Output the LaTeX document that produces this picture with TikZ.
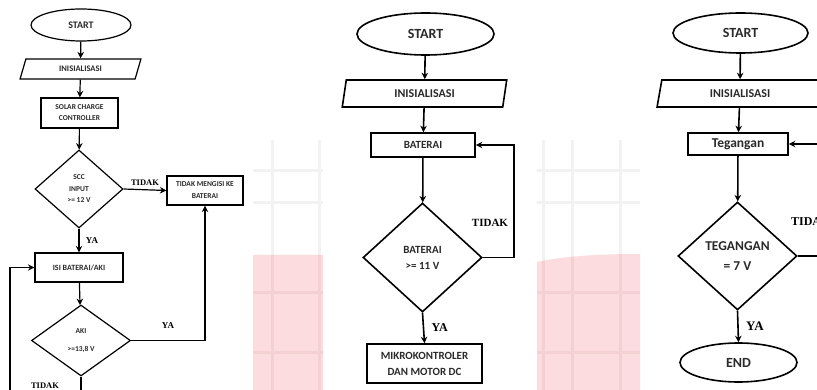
\documentclass[tikz,border=0pt]{standalone}
\usepackage{fontspec}
\setmainfont{Liberation Serif}
\newfontfamily\calib{Carlito}
\usetikzlibrary{arrows.meta, shapes.geometric, positioning}
\definecolor{WMpink}{HTML}{FCDCDE}
\definecolor{WMgrid}{HTML}{F2F2F2}
\definecolor{WMpinkgrid}{HTML}{F5D0D3}
\definecolor{FCtext}{HTML}{2A2A2A}
\newcommand{\fsz}[1]{\fontsize{#1}{#1}\selectfont}

\begin{document}
\begin{tikzpicture}[x=1pt, y=-1pt]
\tikzset{
  termnode/.style={ellipse, draw, inner sep=0pt, text=FCtext},
  ionode/.style={trapezium, trapezium stretches=true, draw, inner sep=0pt, text=FCtext},
  procnode/.style={rectangle, draw, inner sep=0pt, align=center, text=FCtext},
  decnode/.style={diamond, draw, inner sep=0pt, align=center, text=FCtext},
  flowarrow/.style={-{Stealth[length=6.5pt, width=6.5pt]}},
  gridline/.style={line width=3pt, WMgrid},
}
  \useasboundingbox (0,0) rectangle (817,390);
  \clip (0,0) rectangle (817,390);
  \fill[white] (0,0) rectangle (817,390);

  % Watermark behind the gaps
  \foreach \gx in {272,319,543,572,620}
    \draw[gridline] (\gx,140) -- (\gx,390);
  \foreach \gy in {171,203} {
    \draw[gridline] (253,\gy) -- (323,\gy);
    \draw[gridline] (537,\gy) -- (640,\gy);
  }
  \begin{scope}
    \clip (253,255) rectangle (323,390)
      (537,262) .. controls (570,255) and (610,254) .. (640,254)
      -- (640,390) -- (537,390) -- cycle;
    \fill[WMpink] (0,0) rectangle (817,390);
    \foreach \gx in {272,319,543,572,620}
      \draw[gridline, WMpinkgrid] (\gx,140) -- (\gx,390);
    \foreach \gy in {293,352} {
      \draw[gridline, WMpinkgrid] (253,\gy) -- (323,\gy);
      \draw[gridline, WMpinkgrid] (537,\gy) -- (640,\gy);
    }
  \end{scope}

  % Left chart: charging
  \begin{scope}[line width=1.2pt, font=\calib\bfseries]
    \node[termnode, minimum width=100, minimum height=32, font=\calib\bfseries\fsz{10}]
      (start1) at (81,25) {START};
    \node[ionode, trapezium left angle=68, trapezium right angle=112,
      minimum width=121, minimum height=20, font=\calib\bfseries\fsz{8.5}]
      (init1) at (80.5,69) {INISIALISASI};
    \node[procnode, minimum width=77, minimum height=30, font=\calib\bfseries\fontsize{7.5}{11}\selectfont]
      (scc) at (79.5,113) {SOLAR CHARGE\\CONTROLLER};
    \node[decnode, minimum width=88, minimum height=78, font=\calib\bfseries\fontsize{7.5}{11.5}\selectfont]
      (sccin) at (79,189) {SCC\\INPUT\\>= 12 V};
    \node[procnode, minimum width=76, minimum height=29, font=\calib\bfseries\fontsize{7.5}{12}\selectfont]
      (nocharge) at (205,190.5) {TIDAK MENGISI KE\\BATERAI};
    \node[procnode, minimum width=88, minimum height=29, font=\calib\bfseries\fsz{8}]
      (charge) at (79,267.5) {ISI BATERAI/AKI};
    \node[decnode, minimum width=99, minimum height=71, font=\calib\bfseries\fontsize{7.5}{18}\selectfont]
      (aki) at (81,340.5) {AKI\\>=13,8 V};
    \coordinate (loop1) at (10,400);

    \draw[flowarrow] (start1) -- (init1);
    \draw[flowarrow] (init1) -- (scc);
    \draw[flowarrow] (scc) -- (sccin);
    \draw[flowarrow] (sccin.east) -- (nocharge.west)
      node[midway, above, font=\bfseries\fsz{8.5}] {TIDAK};
    \draw[flowarrow] (sccin.south) -- (charge.north)
      node[midway, right=3pt, font=\bfseries\fsz{9}] {YA};
    \draw[flowarrow] (charge) -- (aki);
    \draw[flowarrow] (aki.east) -| (nocharge.south)
      node[pos=0.25, above=8pt, font=\bfseries\fsz{9}] {YA};
    \draw[flowarrow] (aki.south) -- (aki.south |- loop1) -- (loop1) |- (charge.west);
    \node[font=\bfseries\fsz{8.5}] (tidak1) at (45,386) {TIDAK};
  \end{scope}

  % Middle chart: battery check
  \begin{scope}[line width=1.6pt, font=\calib\bfseries]
    \node[termnode, minimum width=137, minimum height=42, font=\calib\bfseries\fsz{14}]
      (start2) at (425.5,34) {START};
    \node[ionode, trapezium left angle=79, trapezium right angle=101,
      minimum width=165, minimum height=27, font=\calib\bfseries\fsz{12}]
      (init2) at (424.5,93.5) {INISIALISASI};
    \node[procnode, minimum width=104, minimum height=24, font=\calib\bfseries\fsz{11}]
      (bat) at (423,145) {BATERAI};
    \node[decnode, minimum width=119, minimum height=109, font=\calib\bfseries\fontsize{11}{16}\selectfont]
      (batchk) at (422.5,257.5) {BATERAI\\>= 11 V};
    \node[procnode, minimum width=115, minimum height=39, font=\calib\bfseries\fontsize{11}{16}\selectfont]
      (mcu) at (424.5,363.5) {MIKROKONTROLER\\DAN MOTOR DC};

    \draw[flowarrow] (start2) -- (init2);
    \draw[flowarrow] (init2) -- (bat);
    \draw[flowarrow] (bat) -- (batchk);
    \draw[flowarrow] (batchk.east) -- ++(31,0) |- (bat.east);
    \node[font=\bfseries\fsz{11}] (tidak2) at (490,223) {TIDAK};
    \draw[flowarrow] (batchk.south) -- (mcu.north)
      node[midway, right=4pt, font=\bfseries\fsz{12}] {YA};
  \end{scope}

  % Right chart: voltage check
  \begin{scope}[line width=1.6pt, font=\calib\bfseries]
    \node[termnode, minimum width=135, minimum height=40, font=\calib\bfseries\fsz{14}]
      (start3) at (740.5,33) {START};
    \node[ionode, trapezium left angle=77, trapezium right angle=103,
      minimum width=166, minimum height=27, font=\calib\bfseries\fsz{12}]
      (init3) at (740,93.5) {INISIALISASI};
    \node[procnode, minimum width=100, minimum height=22, font=\calib\bfseries\fsz{13.5}]
      (volt) at (738,144) {Tegangan};
    \node[decnode, minimum width=119, minimum height=108, font=\calib\bfseries\fontsize{13.5}{20}\selectfont]
      (voltchk) at (737.5,256) {TEGANGAN\\= 7 V};
    \node[termnode, minimum width=117, minimum height=39, font=\calib\bfseries\fsz{14}]
      (end3) at (738.5,362.5) {END};

    \draw[flowarrow] (start3) -- (init3);
    \draw[flowarrow] (init3) -- (volt);
    \draw[flowarrow] (volt) -- (voltchk);
    \draw[flowarrow] (voltchk.east) -- ++(40,0) |- (volt.east);
    \node[font=\bfseries\fsz{12}, anchor=west] (tidak3) at (787,222) {TIDAK};
    \draw[flowarrow] (voltchk.south) -- (end3.north)
      node[midway, right=4pt, font=\bfseries\fsz{13}] {YA};
  \end{scope}
\end{tikzpicture}
\end{document}
